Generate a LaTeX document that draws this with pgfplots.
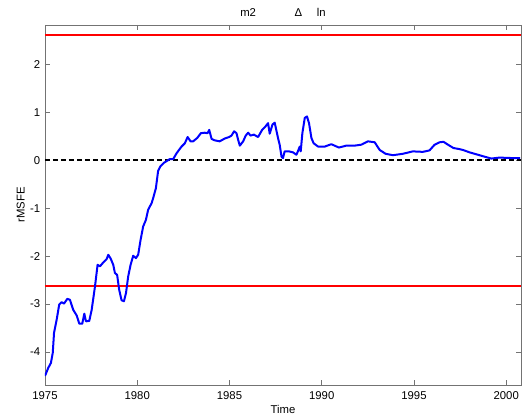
\documentclass[border=0pt]{standalone}
\usepackage{fontspec}
\setmainfont{Liberation Sans}
\usepackage{pgfplots}
\pgfplotsset{compat=1.18}

\begin{document}
\begin{tikzpicture}
\begin{axis}[
  scale only axis,
  width=357pt, height=270pt,
  xmin=1975, xmax=2000.8,
  ymin=-4.69, ymax=2.83,
  xtick={1975,1980,...,2000},
  ytick={-4,-3,...,2},
  tick align=inside,
  tick pos=both,
  major tick length=3.5pt,
  axis line style={draw=black!55, line width=0.5pt},
  every tick/.style={black!55, line width=0.5pt},
  font=\fontsize{8.5}{10}\selectfont,
  /pgf/number format/assume math mode=true,
  /pgf/number format/1000 sep={},
  xticklabel style={yshift=-1.5pt},
  xlabel={Time},
  ylabel={rMSFE},
  xlabel style={at={(axis description cs:0.5,-0.069)}, anchor=center, inner sep=0pt},
  ylabel style={at={(axis description cs:-0.051,0.5)}, anchor=center, inner sep=0pt},
  every axis title shift=0pt,
  title={m2\hspace{29pt}Δ\hspace{11pt}ln},
  title style={at={(axis description cs:0.5,1.034)}, anchor=center, inner sep=0pt},
]
  % bands
  \addplot[red, line width=1.5pt] coordinates {(1975,2.63) (2000.8,2.63)};
  \addplot[red, line width=1.5pt] coordinates {(1975,-2.63) (2000.8,-2.63)};
  \addplot[black, line width=1.5pt, dash pattern=on 3.8pt off 2.2pt] coordinates {(1975,0) (2000.8,0)};

  % rMSFE path
  \addplot[blue, line width=1.5pt, line join=round] coordinates {
    (1975.00,-4.50) (1975.18,-4.33) (1975.32,-4.23) (1975.42,-4.02) (1975.49,-3.60)
    (1975.63,-3.33) (1975.77,-3.01) (1975.90,-2.96) (1976.03,-2.99) (1976.21,-2.89)
    (1976.35,-2.91) (1976.53,-3.12) (1976.72,-3.24) (1976.86,-3.41) (1977.02,-3.41)
    (1977.13,-3.20) (1977.22,-3.36) (1977.40,-3.35) (1977.53,-3.12) (1977.71,-2.63)
    (1977.85,-2.18) (1977.98,-2.21) (1978.16,-2.13) (1978.34,-2.06) (1978.43,-1.97)
    (1978.56,-2.05) (1978.70,-2.18) (1978.79,-2.35) (1978.91,-2.39) (1979.02,-2.70)
    (1979.15,-2.92) (1979.28,-2.94) (1979.39,-2.77) (1979.51,-2.42) (1979.64,-2.18)
    (1979.78,-1.99) (1979.93,-2.04) (1980.05,-1.97) (1980.18,-1.66) (1980.32,-1.38)
    (1980.47,-1.24) (1980.59,-1.03) (1980.78,-0.89) (1980.86,-0.79) (1981.01,-0.58)
    (1981.13,-0.22) (1981.26,-0.12) (1981.44,-0.05) (1981.77,0.03) (1981.95,0.03)
    (1982.13,0.15) (1982.40,0.29) (1982.58,0.36) (1982.73,0.49) (1982.89,0.40)
    (1983.03,0.40) (1983.25,0.47) (1983.45,0.57) (1983.66,0.58) (1983.81,0.57)
    (1983.90,0.64) (1984.03,0.45) (1984.20,0.42) (1984.47,0.40) (1984.75,0.46)
    (1984.98,0.49) (1985.11,0.52) (1985.25,0.61) (1985.38,0.57) (1985.47,0.43)
    (1985.56,0.31) (1985.74,0.40) (1985.88,0.52) (1986.01,0.58) (1986.14,0.52)
    (1986.32,0.54) (1986.55,0.49) (1986.77,0.64) (1986.95,0.71) (1987.09,0.78)
    (1987.18,0.56) (1987.33,0.75) (1987.45,0.79) (1987.63,0.47) (1987.72,0.33)
    (1987.82,0.08) (1987.90,0.05) (1987.99,0.19) (1988.23,0.19) (1988.44,0.17)
    (1988.63,0.12) (1988.81,0.29) (1988.86,0.19) (1988.95,0.57) (1989.08,0.89)
    (1989.20,0.92) (1989.31,0.78) (1989.44,0.47) (1989.56,0.36) (1989.80,0.29)
    (1990.16,0.29) (1990.52,0.34) (1990.93,0.27) (1991.33,0.31) (1991.78,0.31)
    (1992.15,0.33) (1992.50,0.40) (1992.87,0.38) (1993.14,0.22) (1993.46,0.14)
    (1993.86,0.11) (1994.40,0.14) (1994.94,0.19) (1995.48,0.18) (1995.84,0.21)
    (1996.12,0.33) (1996.39,0.38) (1996.60,0.39) (1996.84,0.33) (1997.14,0.26)
    (1997.43,0.24) (1997.65,0.22) (1998.01,0.17) (1998.37,0.13) (1998.82,0.08)
    (1999.19,0.04) (1999.63,0.06) (2000.35,0.05) (2000.75,0.05)
  };
\end{axis}
\path ([shift={(-33.75pt,-24pt)}]current axis.south west)
  rectangle ([shift={(6.75pt,18.75pt)}]current axis.north east);
\end{tikzpicture}
\end{document}
